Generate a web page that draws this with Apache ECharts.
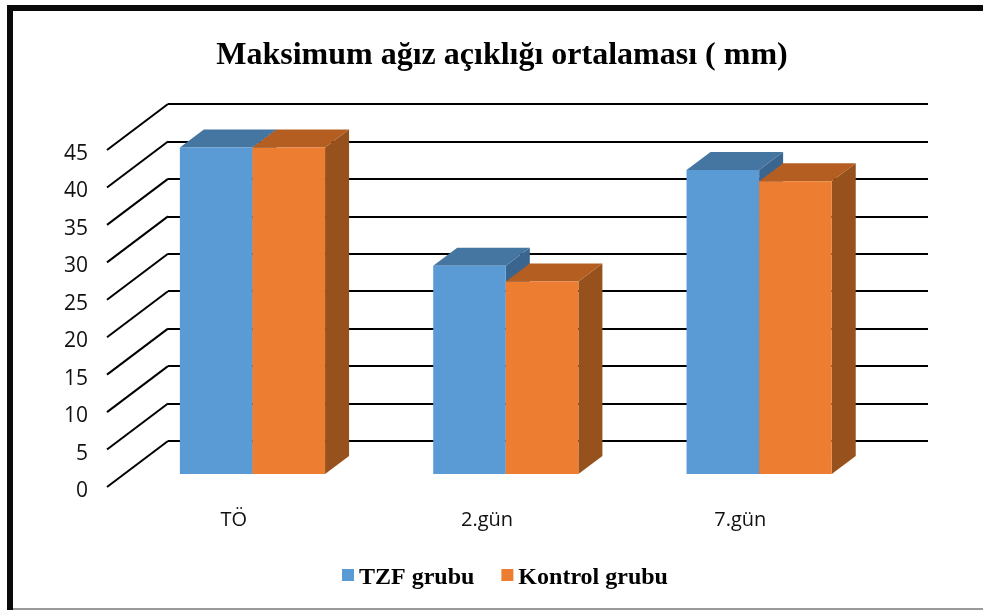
<!DOCTYPE html>
<html>
<head>
<meta charset="utf-8">
<style>
  html, body { margin: 0; padding: 0; background: #fff; }
  #chart { width: 983px; height: 610px; }
</style>
<script src="https://cdn.jsdelivr.net/npm/echarts@6/dist/echarts.min.js"></script>
</head>
<body>
<div id="chart"></div>
<script>
const categories = ['TÖ', '2.gün', '7.gün']
const tzfValues = [43.6, 27.8, 40.6]
const kontrolValues = [43.6, 25.7, 39.1]
const yTicks = [0, 5, 10, 15, 20, 25, 30, 35, 40, 45]

// 3d look: back wall sits this far from the front plane
const wallDx = 61
const wallDy = -46
// bars stand a bit behind the front plane and have some depth
const barShiftX = 18.8
const barShiftY = -13
const depthX = 24
const depthY = -18
const barWidth = 72.6

function bar3d(colors, side) {
  return function (params, api) {
    const top = api.coord([api.value(0), api.value(1)])
    const base = api.coord([api.value(0), 0])
    const cx = top[0] + barShiftX
    const x0 = side < 0 ? cx - barWidth : cx
    const x1 = x0 + barWidth
    const yt = top[1] + barShiftY
    const yb = base[1] + barShiftY
    return {
      type: 'group',
      children: [
        {
          type: 'polygon',
          shape: { points: [[x1, yt], [x1 + depthX, yt + depthY], [x1 + depthX, yb + depthY], [x1, yb]] },
          style: { fill: colors[2] }
        },
        {
          type: 'polygon',
          shape: { points: [[x0, yt], [x0 + depthX, yt + depthY], [x1 + depthX, yt + depthY], [x1, yt]] },
          style: { fill: colors[1] }
        },
        {
          type: 'rect',
          shape: { x: x0, y: yt, width: barWidth, height: yb - yt },
          style: { fill: colors[0] }
        }
      ]
    }
  }
}

const chart = echarts.init(document.getElementById('chart'))
chart.setOption({
  animation: false,
  backgroundColor: '#fff',
  title: {
    text: 'Maksimum ağız açıklığı ortalaması ( mm)',
    left: 497,
    top: 35,
    textAlign: 'center',
    textStyle: { fontFamily: 'Liberation Serif', fontSize: 32, fontWeight: 'bold', color: '#000' }
  },
  legend: {
    data: ['TZF grubu', 'Kontrol grubu'],
    left: 342,
    top: 566,
    padding: 0,
    icon: 'rect',
    itemWidth: 12,
    itemHeight: 12,
    itemGap: 27,
    formatter: '{t|{name}}',
    textStyle: {
      rich: {
        t: { fontFamily: 'Liberation Serif', fontSize: 24, fontWeight: 'bold', color: '#000', padding: [6, 0, 0, 0] }
      }
    }
  },
  // 0: back wall with the long lines, 1: front plane with the labels and bars
  grid: [
    { left: 107 + wallDx, top: 150 + wallDy, width: 760, height: 337 },
    { left: 107, top: 150, width: 760, height: 337 }
  ],
  xAxis: [
    { type: 'category', gridIndex: 0, data: categories, show: false },
    {
      type: 'category',
      gridIndex: 1,
      data: categories,
      axisLine: { show: false },
      axisTick: { show: false },
      axisLabel: { margin: 23, fontFamily: 'Open Sans', fontSize: 20, color: '#111' }
    }
  ],
  yAxis: [
    {
      type: 'value',
      gridIndex: 0,
      min: 0,
      max: 45,
      interval: 5,
      axisLine: { show: false },
      axisTick: { show: false },
      axisLabel: { show: false },
      splitLine: { show: true, lineStyle: { color: '#000', width: 2 } }
    },
    {
      type: 'value',
      gridIndex: 1,
      min: 0,
      max: 45,
      interval: 5,
      axisLine: { show: false },
      axisTick: { show: false },
      splitLine: { show: false },
      axisLabel: {
        margin: 19,
        formatter: '{t|{value}}',
        rich: {
          t: { fontFamily: 'Open Sans', fontSize: 21, color: '#111', padding: [8, 0, 0, 0] }
        }
      }
    }
  ],
  series: [
    {
      // diagonal side wall lines, one per tick
      name: 'walls',
      type: 'custom',
      xAxisIndex: 1,
      yAxisIndex: 1,
      data: yTicks.map(v => [0, v]),
      silent: true,
      clip: false,
      z: 1,
      renderItem: function (params, api) {
        const p = api.coord([0, api.value(1)])
        const x = params.coordSys.x
        return {
          type: 'line',
          shape: { x1: x, y1: p[1], x2: x + wallDx, y2: p[1] + wallDy },
          style: { stroke: '#000', lineWidth: 2 }
        }
      }
    },
    {
      name: 'TZF grubu',
      type: 'custom',
      xAxisIndex: 1,
      yAxisIndex: 1,
      itemStyle: { color: '#5B9BD5' },
      data: tzfValues.map((v, i) => [i, v]),
      encode: { x: 0, y: 1 },
      clip: false,
      z: 2,
      renderItem: bar3d(['#5B9BD5', '#4575A1', '#39658E'], -1)
    },
    {
      name: 'Kontrol grubu',
      type: 'custom',
      xAxisIndex: 1,
      yAxisIndex: 1,
      itemStyle: { color: '#ED7D31' },
      data: kontrolValues.map((v, i) => [i, v]),
      encode: { x: 0, y: 1 },
      clip: false,
      z: 3,
      renderItem: bar3d(['#ED7D31', '#B55E21', '#96511D'], 1)
    }
  ],
  graphic: [
    { type: 'rect', shape: { x: 7, y: 5, width: 976, height: 6 }, style: { fill: '#0a0a0a' } },
    { type: 'rect', shape: { x: 7, y: 5, width: 6, height: 605 }, style: { fill: '#0a0a0a' } },
    { type: 'rect', shape: { x: 13, y: 608, width: 970, height: 2 }, style: { fill: '#999' } }
  ]
})
</script>
</body>
</html>
